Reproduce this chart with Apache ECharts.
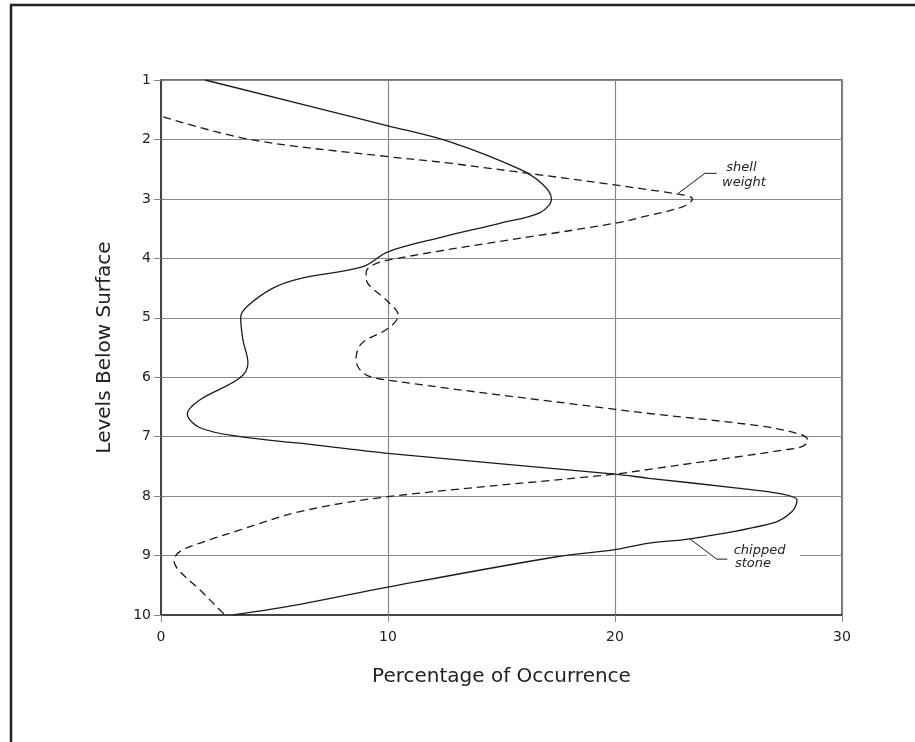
<!DOCTYPE html>
<html>
<head>
<meta charset="utf-8">
<script src="https://cdn.jsdelivr.net/npm/echarts@6/dist/echarts.min.js"></script>
<style>
html,body{margin:0;padding:0;background:#fff;}
#c{width:915px;height:742px;}
</style>
</head>
<body>
<div id="c"></div>
<script>
// ---- data ----
const xTicks = [0, 10, 20, 30];
const levelTicks = [1, 2, 3, 4, 5, 6, 7, 8, 9, 10];

// chipped stone (solid): percentage, level
const chippedPct   = [1.94, 10.0, 12.73, 15.8, 16.8, 17.2, 16.7, 14.93, 12.42, 10.0, 8.9, 6.12, 4.93, 3.79, 3.51, 3.61, 3.83, 3.48, 1.72, 1.16, 1.72, 3.48, 6.12, 10.0, 20.0, 21.5, 25.3, 27.27, 28.02, 27.8, 26.98, 23.3, 21.5, 20.0, 17.43, 10.0, 6.12, 3.17];
const chippedLevel = [1.0, 1.77, 2.04, 2.5, 2.75, 3.0, 3.23, 3.41, 3.64, 3.89, 4.14, 4.34, 4.5, 4.81, 5.0, 5.37, 5.76, 6.01, 6.38, 6.62, 6.85, 7.0, 7.11, 7.28, 7.63, 7.7, 7.86, 7.96, 8.07, 8.26, 8.45, 8.72, 8.79, 8.9, 9.02, 9.53, 9.82, 10.0];

// shell weight (dashed): percentage, level
const shellPct   = [0.1, 3.92, 10.0, 12.73, 22.64, 23.42, 23.0, 21.25, 20.0, 10.0, 9.06, 9.03, 10.0, 10.43, 10.44, 10.0, 8.84, 8.59, 8.91, 9.65, 20.0, 21.5, 26.39, 28.15, 28.5, 28.28, 27.53, 21.5, 20.0, 10.0, 6.12, 3.48, 1.72, 0.84, 0.57, 0.76, 1.72, 2.45, 2.82];
const shellLevel = [1.62, 2.0, 2.29, 2.4, 2.91, 3.0, 3.13, 3.3, 3.41, 4.03, 4.2, 4.33, 4.73, 4.92, 4.97, 5.18, 5.43, 5.71, 5.93, 6.03, 6.54, 6.61, 6.82, 6.96, 7.06, 7.16, 7.22, 7.55, 7.63, 8.01, 8.26, 8.57, 8.79, 8.93, 9.08, 9.24, 9.58, 9.86, 10.0];

// annotation anchors in data units
const shellLeader   = [[22.79, 2.906], [23.96, 2.57], [24.48, 2.57]];
const shellText     = [{t: 'shell', p: [25.57, 2.48]}, {t: 'weight', p: [25.68, 2.72]}];
const chippedLeader = [[23.3, 8.72], [24.48, 9.06], [24.95, 9.06]];
const chippedText   = [{t: 'chipped', p: [26.37, 8.91]}, {t: 'stone', p: [26.08, 9.14]}];
const chippedGap    = [[24.04, 9], [28.15, 9]];

const FONT = 'DejaVu Sans';
const zip = (a, b) => a.map((v, i) => [v, b[i]]);

const chart = echarts.init(document.getElementById('c'), null, {renderer: 'canvas'});

const option = {
  animation: false,
  backgroundColor: '#fff',
  grid: {left: 161, top: 80, right: 73, bottom: 127, show: true, borderColor: '#444', borderWidth: 1.5, backgroundColor: 'transparent'},
  xAxis: {
    type: 'value', min: xTicks[0], max: xTicks[xTicks.length - 1], interval: 10,
    name: 'Percentage of Occurrence', nameLocation: 'middle', nameGap: 52,
    nameTextStyle: {fontSize: 20, color: '#222', fontFamily: FONT},
    axisLine: {show: true, onZero: false, lineStyle: {color: '#333', width: 1.5}},
    axisTick: {show: true, length: 7, lineStyle: {color: '#888', width: 1}},
    axisLabel: {margin: 15, fontSize: 14, color: '#222', fontFamily: FONT, showMinLabel: true, showMaxLabel: true},
    splitLine: {show: true, lineStyle: {color: '#888', width: 1.2}}
  },
  yAxis: {
    type: 'value', inverse: true, min: levelTicks[0], max: levelTicks[levelTicks.length - 1], interval: 1,
    name: 'Levels Below Surface', nameLocation: 'middle', nameGap: 46, nameRotate: 90,
    nameTextStyle: {fontSize: 20, color: '#222', fontFamily: FONT},
    axisLine: {show: true, onZero: false, lineStyle: {color: '#333', width: 1.5}},
    axisTick: {show: true, length: 7, lineStyle: {color: '#888', width: 1}},
    axisLabel: {margin: 10, fontSize: 14, color: '#222', fontFamily: FONT, showMinLabel: true, showMaxLabel: true},
    splitLine: {show: true, lineStyle: {color: '#888', width: 1.2}}
  },
  series: [
    {
      name: 'chipped stone', type: 'line', data: zip(chippedPct, chippedLevel),
      smooth: 0.35, showSymbol: false, symbol: 'none',
      lineStyle: {color: '#1a1a1a', width: 1.3, type: 'solid'}, z: 5
    },
    {
      name: 'shell weight', type: 'line', data: zip(shellPct, shellLevel),
      smooth: 0.35, showSymbol: false, symbol: 'none',
      lineStyle: {color: '#1a1a1a', width: 1.3, type: [8, 5]}, z: 5
    },
    {
      name: 'shell leader', type: 'line', data: shellLeader, smooth: false, symbol: 'none',
      lineStyle: {color: '#1a1a1a', width: 1}, z: 6
    },
    {
      name: 'chipped leader', type: 'line', data: chippedLeader, smooth: false, symbol: 'none',
      lineStyle: {color: '#1a1a1a', width: 1}, z: 6
    }
  ]
};
chart.setOption(option);

function px(p) { return chart.convertToPixel({gridIndex: 0}, p); }
const g = [];
// frame
g.push({type: 'line', shape: {x1: 11, y1: 5, x2: 11, y2: 742}, style: {stroke: '#222', lineWidth: 2.5}, z: 100});
g.push({type: 'line', shape: {x1: 10, y1: 5, x2: 915, y2: 5}, style: {stroke: '#222', lineWidth: 2.5}, z: 100});
// gap in grid line behind "chipped stone"
const a = px(chippedGap[0]), b = px(chippedGap[1]);
g.push({type: 'rect', shape: {x: a[0], y: a[1] - 3, width: b[0] - a[0], height: 6}, style: {fill: '#fff'}, z: 1});
[...shellText, ...chippedText].forEach(o => {
  const q = px(o.p);
  g.push({type: 'text', x: q[0], y: q[1], z: 101,
    style: {text: o.t, fill: '#222', font: 'italic 13px "' + FONT + '"', align: 'center', verticalAlign: 'middle'}});
});
chart.setOption({graphic: {elements: g}});
</script>
</body>
</html>
